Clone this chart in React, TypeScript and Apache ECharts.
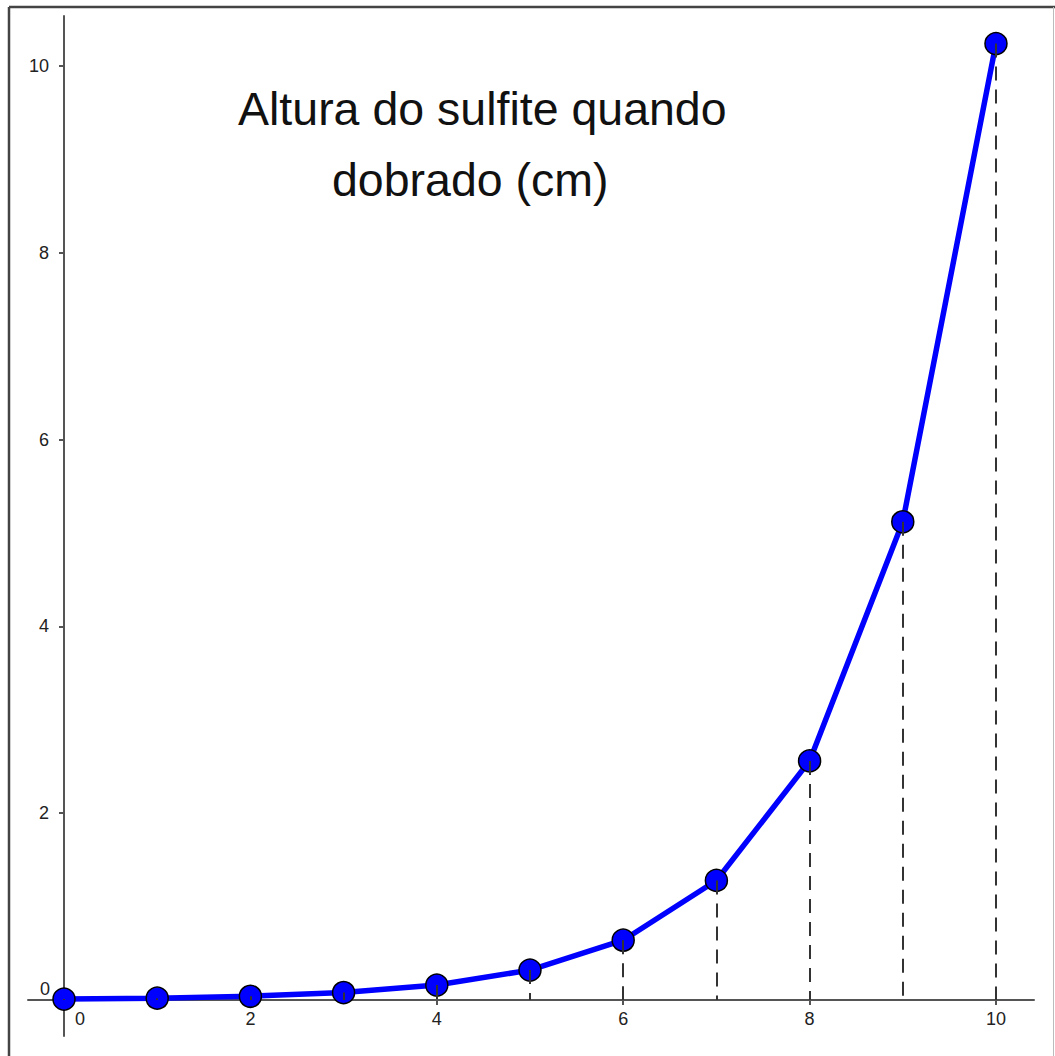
import React, { useEffect, useRef } from "react";
import * as echarts from "echarts";

// Data: number of folds vs. height of the sheet (cm)
const xValues = [0, 1, 2, 3, 4, 5, 6, 7, 8, 9, 10];
const heights = [0.01, 0.02, 0.04, 0.08, 0.16, 0.32, 0.64, 1.28, 2.56, 5.12, 10.24];
const xTickValues = [2, 4, 6, 8, 10];
const xLabelValues = [2, 4, 6, 8, 10];
const yTickValues = [2, 4, 6, 8, 10];
const yLabelValues = [2, 4, 6, 8, 10];
const originLabel = [0];
const titleLines = ["Altura do sulfite quando", "dobrado (cm)"];

const W = 1055;
const H = 1056;
const X_MIN = -0.3863;
const X_MAX = 10.408;
const Y_MIN = -0.3854;
const Y_MAX = 10.535;

export default function App() {
  const ref = useRef<HTMLDivElement>(null);

  useEffect(() => {
    document.body.style.margin = "0";
    const chart = echarts.init(ref.current!, undefined, { renderer: "svg", width: W, height: H });
    const points = xValues.map((x, i) => [x, heights[i]]);
    const drops = xValues.map((x, i) => [
      { coord: [x, heights[i]] },
      { coord: [x, 0] },
    ]);
    const font = { fontFamily: "Liberation Sans", fontSize: 18, color: "#222" };
    const axisLineStyle = { color: "#555", width: 2 };

    chart.setOption({
      animation: false,
      backgroundColor: "#ffffff",
      textStyle: { fontFamily: "Liberation Sans", fontSize: 18 },
      grid: { left: 28, right: 21, top: 16, bottom: 20, containLabel: false, outerBoundsMode: "none" },
      xAxis: [
        {
          type: "value",
          position: "bottom",
          offset: -36,
          min: X_MIN,
          max: X_MAX,
          splitLine: { show: false },
          axisLine: { show: true, onZero: false, lineStyle: axisLineStyle },
          axisTick: { show: true, length: 5, customValues: xTickValues, lineStyle: axisLineStyle },
          axisLabel: { ...font, margin: 10, customValues: xLabelValues },
        },
        {
          type: "value",
          position: "bottom",
          offset: -36,
          min: X_MIN,
          max: X_MAX,
          splitLine: { show: false },
          axisLine: { show: false, onZero: false },
          axisTick: { show: false },
          axisLabel: { ...font, margin: 10, align: "left", padding: [0, 0, 0, 11], customValues: originLabel },
        },
      ],
      yAxis: [
        {
          type: "value",
          position: "left",
          offset: -36,
          min: Y_MIN,
          max: Y_MAX,
          splitLine: { show: false },
          axisLine: { show: true, onZero: false, lineStyle: axisLineStyle },
          axisTick: { show: true, length: 5, customValues: yTickValues, lineStyle: axisLineStyle },
          axisLabel: { ...font, margin: 15, customValues: yLabelValues },
        },
        {
          type: "value",
          position: "left",
          offset: -36,
          min: Y_MIN,
          max: Y_MAX,
          splitLine: { show: false },
          axisLine: { show: false, onZero: false },
          axisTick: { show: false },
          axisLabel: { ...font, margin: 14, verticalAlign: "bottom", padding: [0, 0, 2, 0], customValues: originLabel },
        },
      ],
      series: [
        {
          type: "line",
          name: "drops",
          data: [],
          z: 1,
          silent: true,
          markLine: {
            silent: true,
            animation: false,
            symbol: ["none", "none"],
            label: { show: false },
            emphasis: { disabled: true },
            lineStyle: { type: [14, 9], color: "#333", width: 2 },
            data: drops,
          },
        },
        {
          type: "line",
          name: "Altura",
          data: points,
          z: 3,
          symbol: "circle",
          symbolSize: 22,
          showSymbol: true,
          lineStyle: { color: "#0000ff", width: 5.5 },
          itemStyle: { color: "#0000ff", borderColor: "#000", borderWidth: 1.5 },
          emphasis: { disabled: true },
        },
      ],
      graphic: [
        {
          type: "text",
          style: {
            text: titleLines[0],
            x: 238,
            y: 108.5,
            font: "46.5px 'Liberation Sans'",
            fill: "#111",
            textVerticalAlign: "middle",
          },
        },
        {
          type: "text",
          style: {
            text: titleLines[1],
            x: 332,
            y: 180,
            font: "46.5px 'Liberation Sans'",
            fill: "#111",
            textVerticalAlign: "middle",
          },
        },
        { type: "line", shape: { x1: 9, y1: 7, x2: 1055, y2: 7 }, style: { stroke: "#444", lineWidth: 2.5 } },
        { type: "line", shape: { x1: 9, y1: 7, x2: 9, y2: 1056 }, style: { stroke: "#444", lineWidth: 2.5 } },
        { type: "line", shape: { x1: 1053.5, y1: 7, x2: 1053.5, y2: 1056 }, style: { stroke: "#bbb", lineWidth: 1 } },
      ],
    });
    return () => chart.dispose();
  }, []);

  return <div ref={ref} style={{ position: "absolute", left: 0, top: 0, width: W, height: H }} />;
}
